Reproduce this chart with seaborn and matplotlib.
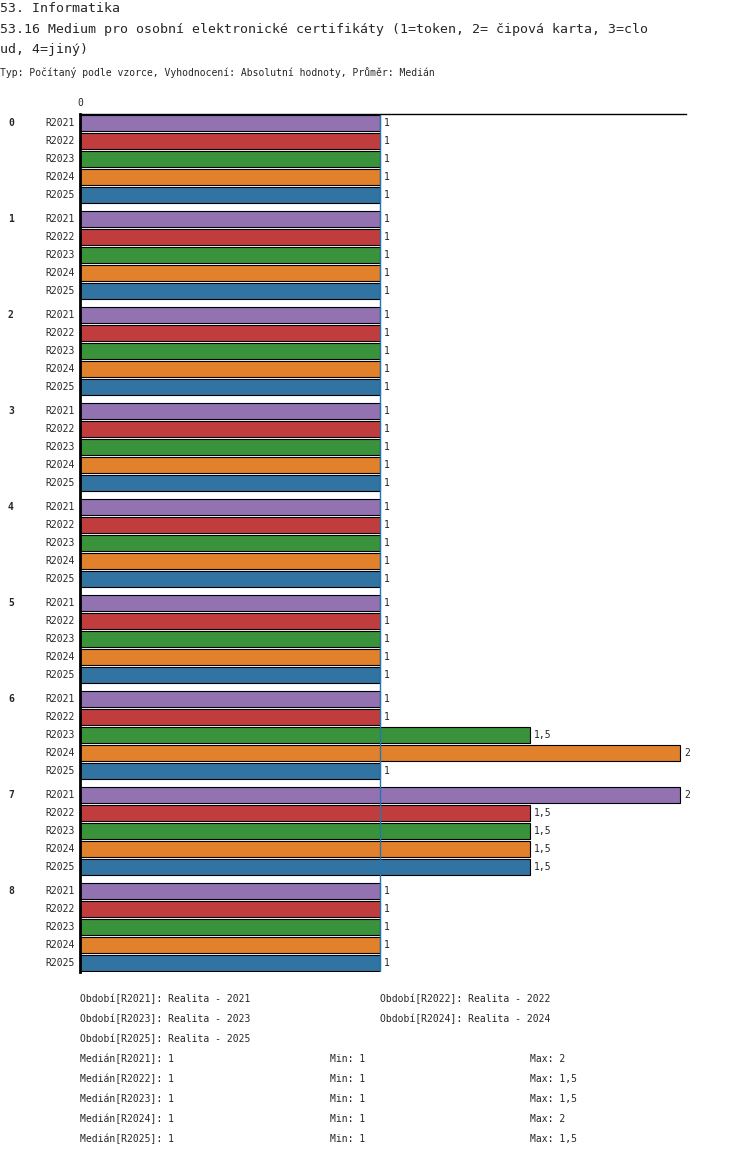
import matplotlib
matplotlib.use("Agg")
import matplotlib.pyplot as plt
import seaborn as sns
import pandas as pd

groups = ["0", "1", "2", "3", "4", "5", "6", "7", "8"]
years = ["R2021", "R2022", "R2023", "R2024", "R2025"]
values = [
    [1, 1, 1, 1, 1],
    [1, 1, 1, 1, 1],
    [1, 1, 1, 1, 1],
    [1, 1, 1, 1, 1],
    [1, 1, 1, 1, 1],
    [1, 1, 1, 1, 1],
    [1, 1, 1.5, 2, 1],
    [2, 1.5, 1.5, 1.5, 1.5],
    [1, 1, 1, 1, 1],
]
colors = ["#9467bd", "#d62728", "#2ca02c", "#ff7f0e", "#1f77b4"]
median_line = 1

rows = []
for g, vals in enumerate(values):
    for k, v in enumerate(vals):
        rows.append({"pos": g * 96 + k * 18 + 9, "value": v, "year": years[k], "group": groups[g]})
df = pd.DataFrame(rows)

sns.set_style("white")
plt.rcParams["font.family"] = ["DejaVu Sans Mono"]
fig = plt.figure(figsize=(7.5, 11.58), dpi=100)
W, H = 750, 1158
ax = fig.add_axes([80 / W, 1 - 972 / H, 606 / W, 858 / H])

sns.barplot(data=df, x="value", y="pos", hue="year", palette=colors, orient="h",
            native_scale=True, width=16 / 18, edgecolor="black", linewidth=0.8,
            legend=False, ax=ax, dodge=False)
ax.set_xlim(0, 2.02)
ax.set_ylim(858, 0)
for s in ["right", "bottom"]:
    ax.spines[s].set_visible(False)
ax.spines["top"].set_color("black")
ax.spines["top"].set_linewidth(1)
ax.spines["left"].set_color("black")
ax.spines["left"].set_linewidth(2)
ax.set_xticks([])
ax.set_yticks([])
ax.set_xlabel("")
ax.set_ylabel("")
ax.axvline(median_line, color="#1f77b4", lw=1)

fs = 7
for _, r in df.iterrows():
    ax.text(r["value"] + 0.013, r["pos"], f"{r['value']:g}".replace(".", ","),
            va="center", ha="left", fontsize=fs)
    ax.text(-0.017, r["pos"], r["year"], va="center", ha="right", fontsize=fs)
for g, name in enumerate(groups):
    ax.text(-0.24, g * 96 + 9, name, va="center", ha="left", fontsize=fs, fontweight="bold")
ax.text(0, -6, "0", ha="center", va="bottom", fontsize=fs)

def t(x, y, s, **kw):
    fig.text(x / W, 1 - y / H, s, va="center", ha="left", **kw)

t(0, 8, "53. Informatika", fontsize=9.5)
t(0, 29, "53.16 Medium pro osobní elektronické certifikáty (1=token, 2= čipová karta, 3=clo", fontsize=9.5)
t(0, 50, "ud, 4=jiný)", fontsize=9.5)
t(0, 73, "Typ: Počítaný podle vzorce, Vyhodnocení: Absolutní hodnoty, Průměr: Medián", fontsize=fs)

t(80, 999, "Období[R2021]: Realita - 2021", fontsize=fs)
t(380, 999, "Období[R2022]: Realita - 2022", fontsize=fs)
t(80, 1019, "Období[R2023]: Realita - 2023", fontsize=fs)
t(380, 1019, "Období[R2024]: Realita - 2024", fontsize=fs)
t(80, 1039, "Období[R2025]: Realita - 2025", fontsize=fs)
for i, y in enumerate(years):
    vals = [v[i] for v in values]
    yy = 1059 + i * 20
    t(80, yy, f"Medián[{y}]: 1", fontsize=fs)
    t(330, yy, f"Min: {min(vals):g}".replace(".", ","), fontsize=fs)
    t(530, yy, f"Max: {max(vals):g}".replace(".", ","), fontsize=fs)

fig.savefig("out.png", dpi=100)
